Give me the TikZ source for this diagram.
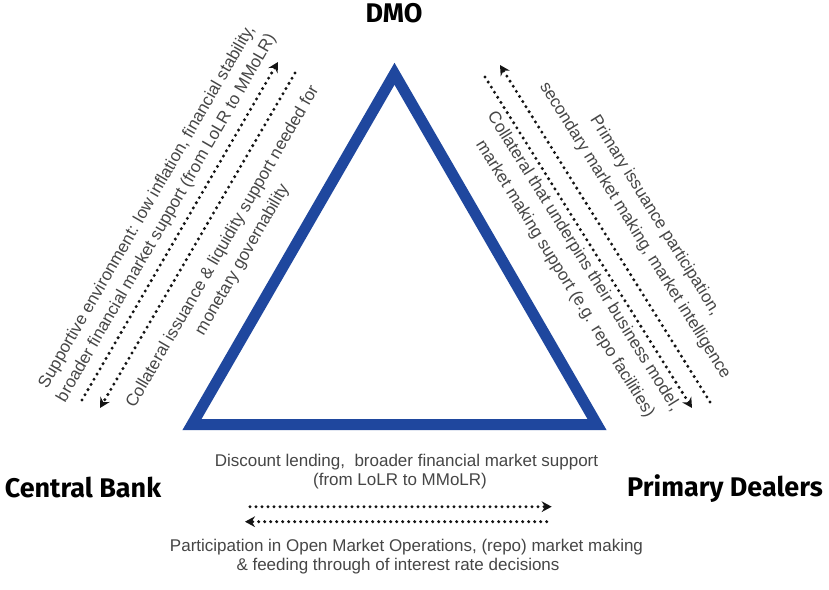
\documentclass[tikz,border=0pt]{standalone}
\usepackage{fontspec}
\setmainfont{Liberation Sans}
\newfontfamily\labelfont{Fira Sans}
\usetikzlibrary{arrows.meta}
\definecolor{triblue}{RGB}{31,71,158}
\definecolor{txtgray}{RGB}{70,70,70}
\definecolor{dotcol}{RGB}{20,20,20}
\begin{document}
\begin{tikzpicture}[x=0.03cm,y=-0.03cm,
  actor/.style={font=\labelfont\bfseries\fontsize{23}{26}\selectfont, text=black, inner sep=0pt},
  flow/.style={font=\fontsize{14.5}{17}\selectfont, text=txtgray, inner sep=0pt},
  dotarrow/.style={draw=dotcol, line width=0.1cm, line cap=round,
     dash pattern=on 0pt off 0.18cm, -{Stealth[length=0.3cm,width=0.32cm,inset=0.1cm]}}
]
\useasboundingbox (0,0) rectangle (829,590);
\fill[white] (0,0) rectangle (829,590);

% triangle
\coordinate (apex) at (394.5,73.8);
\coordinate (bl) at (192,424.5);
\coordinate (br) at (597,424.5);
\draw[triblue, line width=0.33cm, line join=miter] (apex) -- (br) -- (bl) -- cycle;

% actors
\node[actor] (dmo) at (394,13) {DMO};
\node[actor] (cb) at (83,488) {Central Bank};
\node[actor] (pd) at (725,489) {Primary Dealers};

% left side texts
\node[flow, rotate=60] (l1a) at (147.3,206.9) {Supportive environment: low inflation, financial stability,};
\node[flow, rotate=60] (l1b) at (166.8,218.1) {broader financial market support (from LoLR to MMoLR)};
\node[flow, rotate=60] (l3a) at (223,247) {Collateral issuance \& liquidity support needed for};
\node[flow, rotate=60] (l3b) at (242.6,259.8) {monetary governability};
\coordinate (la1t) at (82,400);
\coordinate (la1h) at (278,62);
\coordinate (la2t) at (295,73);
\coordinate (la2h) at (100,408);
\draw[dotarrow] (la1t) -- (la1h);
\draw[dotarrow] (la2t) -- (la2h);

% right side texts
\node[flow, rotate=-58] (r1a) at (654.9,215.7) {Primary issuance participation,};
\node[flow, rotate=-58] (r1b) at (634.8,230.6) {secondary market making, market intelligence};
\node[flow, rotate=-58] (r3a) at (583.3,261.6) {Collateral that underpins their business model,};
\node[flow, rotate=-58] (r3b) at (564.8,279.1) {market making support (e.g. repo facilities)};
\coordinate (raAt) at (710,402);
\coordinate (raAh) at (500,65);
\coordinate (raBt) at (485,77);
\coordinate (raBh) at (692,408);
\draw[dotarrow] (raAt) -- (raAh);
\draw[dotarrow] (raBt) -- (raBh);

% bottom texts
\node[flow, anchor=base] (b1a) at (406.5,466.7) {Discount lending,\ \ broader financial market support};
\node[flow, anchor=base] (b1b) at (400,485) {(from LoLR to MMoLR)};
\node[flow, anchor=base] (b3a) at (406.5,551.7) {Participation in Open Market Operations, (repo) market making};
\node[flow, anchor=base] (b3b) at (398,570) {\& feeding through of interest rate decisions};
\coordinate (baAt) at (250,506.7);
\coordinate (baAh) at (551.7,506.7);
\coordinate (baBt) at (546.7,521.7);
\coordinate (baBh) at (245,521.7);
\draw[dotarrow] (baAt) -- (baAh);
\draw[dotarrow] (baBt) -- (baBh);
\end{tikzpicture}
\end{document}
